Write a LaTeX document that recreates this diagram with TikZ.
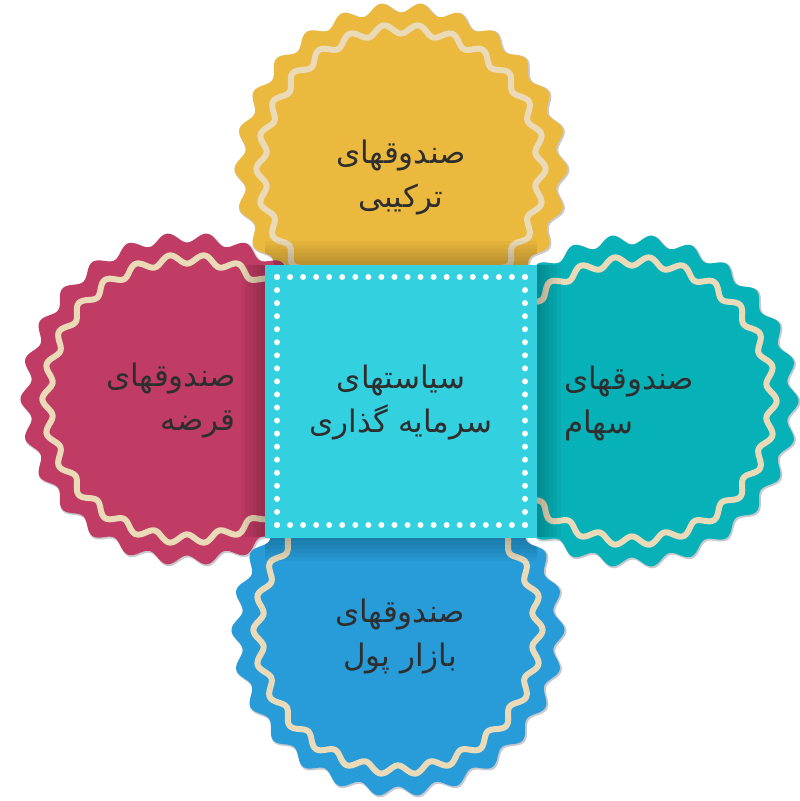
\documentclass[tikz,border=0pt]{standalone}
\usepackage{fontspec}
\newfontfamily\arabicfont[Script=Arabic]{DejaVu Sans}
\TeXXeTstate=1
\definecolor{cyellow}{HTML}{EBB93E}
\definecolor{cred}{HTML}{C03C64}
\definecolor{cteal}{HTML}{07B1B8}
\definecolor{cblue}{HTML}{279CD8}
\definecolor{csquare}{HTML}{33D1E0}
\definecolor{ccream}{HTML}{EADAB8}
\definecolor{cgrey}{HTML}{C8C8CE}
\definecolor{ctext}{HTML}{2E2E2E}
\newcommand\badgeshape[2]{plot[domain=0:360,samples=500,smooth,variable=\t] (\t:{#1+#2*cos(26*\t)}) -- cycle}
\newcommand\badge[3]{%
  \begin{scope}[shift={(#1,#2)}]
    \fill[cgrey, shift={(1,1)}] \badgeshape{162.5}{5};
    \fill[#3] \badgeshape{161.5}{5};
    \draw[ccream, line width=6pt] \badgeshape{140}{4.6};
  \end{scope}}
\tikzset{
  label text/.style={font=\arabicfont\fontsize{31}{44}\selectfont, text=ctext, inner sep=0pt},
  sqdot/.style={fill=white, draw=none}
}
\begin{document}
\begin{tikzpicture}[x=1pt,y=-1pt]
\useasboundingbox (0,0) rectangle (800,801);
% badges
\badge{401}{169}{cyellow}
\badge{187}{399}{cred}
\badge{632}{401}{cteal}
\badge{398}{630}{cblue}
% shadows of the square onto badges
\begin{scope}
  \clip[shift={(401,169)}] \badgeshape{161.5}{5};
  \foreach \i in {1,...,6} \fill[black, opacity=0.035] (265,{265-\i*4}) rectangle (537,265);
\end{scope}
\begin{scope}
  \clip[shift={(187,399)}] \badgeshape{161.5}{5};
  \foreach \i in {1,...,6} \fill[black, opacity=0.035] ({265-\i*4},265) rectangle (265,537);
\end{scope}
\begin{scope}
  \clip[shift={(632,401)}] \badgeshape{161.5}{5};
  \foreach \i in {1,...,6} \fill[black, opacity=0.035] (537,265) rectangle ({537+\i*4},537);
\end{scope}
\begin{scope}
  \clip[shift={(398,630)}] \badgeshape{161.5}{5};
  \foreach \i in {1,...,6} \fill[black, opacity=0.035] (265,537) rectangle (537,{537+\i*4});
\end{scope}
% centre square
\node[fill=csquare, minimum width=272pt, minimum height=273pt, inner sep=0pt] (sq) at (401,401) {};
\foreach \k in {0,...,19} {
  \fill[sqdot] ({277+\k*13.05},277) circle (3);
  \fill[sqdot] ({277+\k*13.05},525) circle (3);
  \fill[sqdot] (277,{277+\k*13.05}) circle (3);
  \fill[sqdot] (525,{277+\k*13.05}) circle (3);
}
% texts
\node[label text, align=center] (top) at (401,178) {\beginR صندوقهای\endR\\\beginR ترکیبی\endR};
\node[label text, align=right, anchor=east] (left) at (236,401) {\beginR صندوقهای\endR\\\beginR قرضه\endR};
\node[label text, align=left, anchor=west] (right) at (564,403) {\beginR صندوقهای\endR\\\beginR سهام\endR};
\node[label text, align=center] (bottom) at (400,636) {\beginR صندوقهای\endR\\\beginR بازار پول\endR};
\node[label text, align=center] (centre) at (401,403) {\beginR سیاستهای\endR\\\beginR سرمایه گذاری\endR};
\end{tikzpicture}
\end{document}
